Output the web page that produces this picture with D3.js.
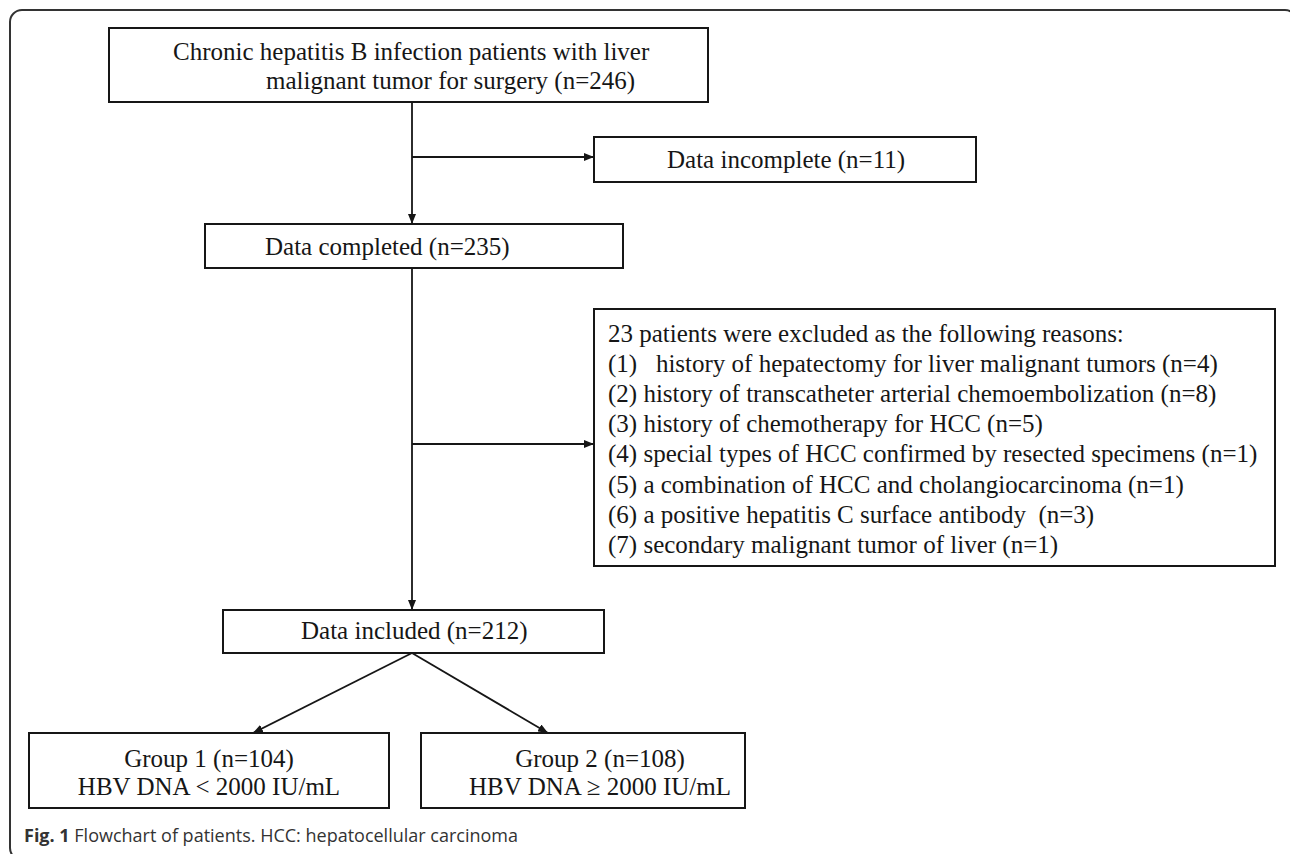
<!DOCTYPE html>
<html>
<head>
<meta charset="utf-8">
<script src="https://cdn.jsdelivr.net/npm/d3@7"></script>
<style>
  body { margin: 0; background: #fff; }
  svg text { white-space: pre; }
</style>
</head>
<body>
<div id="chart"></div>
<script>
// flowchart data
const stageNames = ["Data incomplete", "Data completed", "Data included"];
const stageCounts = [11, 235, 212];
const startLines = ["Chronic hepatitis B infection patients with liver", "malignant tumor for surgery"];
const startCount = 246;
const excludedCount = 23;
const exclusionReasons = [
  "history of hepatectomy for liver malignant tumors",
  "history of transcatheter arterial chemoembolization",
  "history of chemotherapy for HCC",
  "special types of HCC confirmed by resected specimens",
  "a combination of HCC and cholangiocarcinoma",
  "a positive hepatitis C surface antibody ",
  "secondary malignant tumor of liver"
];
const exclusionCounts = [4, 8, 5, 1, 1, 3, 1];
const groupNames = ["Group 1", "Group 2"];
const groupCounts = [104, 108];
const groupCriteria = ["HBV DNA < 2000 IU/mL", "HBV DNA \u2265 2000 IU/mL"];

const W = 1290, H = 854;
const serif = "'Liberation Serif', 'Times New Roman', serif";
const ink = "#161616";

var svg = d3.select("#chart").append("svg").attr("width", W).attr("height", H);

svg.append("defs").append("marker")
    .attr("id", "arrow")
    .attr("viewBox", "0 0 10 8")
    .attr("refX", 10).attr("refY", 4)
    .attr("markerWidth", 10).attr("markerHeight", 8)
    .attr("markerUnits", "userSpaceOnUse")
    .attr("orient", "auto")
  .append("path")
    .attr("d", "M0,0L10,4L0,8Z")
    .attr("fill", ink);

// outer frame (runs off the right and bottom edges)
svg.append("rect")
    .attr("x", 10).attr("y", 10)
    .attr("width", 1287).attr("height", 850)
    .attr("rx", 12)
    .attr("fill", "none")
    .attr("stroke", "#333")
    .attr("stroke-width", 2);

// boxes: [x, y, w, h]
const boxLayout = [
  [109, 28, 599, 74],    // start
  [594, 137, 382, 45],   // incomplete
  [205, 224, 418, 44],   // completed
  [594, 309, 681, 257],  // exclusion
  [223, 610, 381, 43],   // included
  [29, 733, 360, 75],    // group 1
  [421, 733, 324, 75]    // group 2
];

svg.append("g").selectAll("rect")
  .data(boxLayout)
  .enter()
  .append("rect")
    .attr("x", d => d[0]).attr("y", d => d[1])
    .attr("width", d => d[2]).attr("height", d => d[3])
    .attr("fill", "#fff")
    .attr("stroke", ink)
    .attr("stroke-width", 2);

function label(x, y, str, anchor) {
  return svg.append("text")
    .attr("x", x).attr("y", y)
    .attr("text-anchor", anchor || "start")
    .attr("font-family", serif)
    .attr("font-size", 25)
    .attr("fill", ink)
    .text(str);
}

// start box
label(173, 60, startLines[0]);
label(266, 89, startLines[1] + " (n=" + startCount + ")");

// single line stages
const stageText = [[667, 168], [265, 255], [301, 639]];
stageNames.forEach(function(name, i) {
  label(stageText[i][0], stageText[i][1], name + " (n=" + stageCounts[i] + ")");
});

// exclusion reasons
const exLines = [excludedCount + " patients were excluded as the following reasons:"]
  .concat(exclusionReasons.map(function(r, i) {
    return (i === 0 ? "(1)   " : "(" + (i + 1) + ") ") + r + " (n=" + exclusionCounts[i] + ")";
  }));

svg.append("g")
  .selectAll("text")
  .data(exLines)
  .enter()
  .append("text")
    .attr("x", 608)
    .attr("y", (d, i) => 342 + i * 30.1)
    .attr("font-family", serif)
    .attr("font-size", 25)
    .attr("fill", ink)
    .text(d => d);

// group boxes
const groupCx = [209, 600];
groupNames.forEach(function(g, i) {
  label(groupCx[i], 767, g + " (n=" + groupCounts[i] + ")", "middle");
  label(groupCx[i], 795, groupCriteria[i], "middle");
});

// connectors
const spineX = 412;
const links = [
  [[spineX, 102], [spineX, 224]],
  [[spineX, 157], [594, 157]],
  [[spineX, 268], [spineX, 610]],
  [[spineX, 444], [594, 444]],
  [[spineX, 653], [253, 733]],
  [[spineX, 653], [548, 733]]
];

svg.append("g").selectAll("line")
  .data(links)
  .enter()
  .append("line")
    .attr("x1", d => d[0][0]).attr("y1", d => d[0][1])
    .attr("x2", d => d[1][0]).attr("y2", d => d[1][1])
    .attr("stroke", ink)
    .attr("stroke-width", 1.8)
    .attr("marker-end", "url(#arrow)");

// caption
var cap = svg.append("text")
    .attr("x", 24).attr("y", 842)
    .attr("font-family", "'Open Sans', sans-serif")
    .attr("font-size", 18)
    .attr("fill", "#333");
cap.append("tspan").attr("font-weight", "bold").text("Fig. 1");
cap.append("tspan").text(" Flowchart of patients. HCC: hepatocellular carcinoma");
</script>
</body>
</html>
